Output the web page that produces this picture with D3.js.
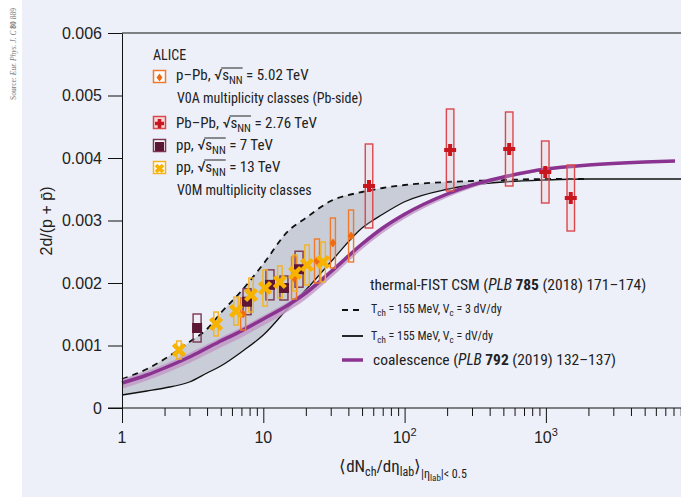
<!DOCTYPE html>
<html><head><meta charset="utf-8">
<script src="https://cdn.jsdelivr.net/npm/d3@7"></script>
<style>
html,body{margin:0;padding:0;background:#fff;}
svg{display:block;}
</style></head>
<body>
<svg id="c" width="681" height="497"></svg>
<script>
// ---------- data ----------
const pPbX = [7.2, 16.5, 24.0, 31.1, 41.8];
const pPbY = [0.001504, 0.00208, 0.002352, 0.00264, 0.002752];
const pPbSys = [0.000256, 0.000336, 0.000352, 0.0004, 0.000416];

const PbPbX = [56, 210, 550, 990, 1500];
const PbPbY = [0.003552, 0.004128, 0.004144, 0.003776, 0.00336];
const PbPbSys = [0.000672, 0.000656, 0.000592, 0.000496, 0.000528];

const pp7X = [3.4, 7.67, 11.15, 14.0, 17.9];
const pp7Y = [0.00128, 0.0017, 0.00197, 0.00192, 0.00222];
const pp7Sys = [0.000224, 0.000208, 0.00024, 0.000192, 0.000288];

const pp13X = [2.53, 4.63, 6.41, 8.19, 10.3, 13.1, 16.8, 20.4, 26.5];
const pp13Y = [0.000928, 0.001344, 0.001552, 0.001808, 0.00192, 0.002016, 0.00216, 0.002288, 0.002336];
const pp13Sys = [0.000144, 0.000192, 0.000224, 0.000272, 0.000288, 0.000256, 0.000288, 0.00032, 0.00032];

const modelX = [1, 1.5, 2, 3, 4, 5, 7, 10, 15, 20, 30, 50, 70, 100, 200, 300, 500, 1000, 2000, 5000, 9040];
const csmDashed = [0.000464, 0.000624, 0.000784, 0.001056, 0.001264, 0.00152, 0.001872, 0.002304, 0.002832, 0.00304, 0.003312, 0.003456, 0.00352, 0.003568, 0.003616, 0.003632, 0.003648, 0.003664, 0.003664, 0.003664, 0.003664];
const csmSolid = [0.000208, 0.000272, 0.00032, 0.000416, 0.00056, 0.000672, 0.000896, 0.001168, 0.0016, 0.001888, 0.002336, 0.00288, 0.0031, 0.0033, 0.0035, 0.003568, 0.003616, 0.003648, 0.003664, 0.003664, 0.003664];

const coalX = [1, 1.5, 2, 3, 4, 5, 7, 10, 15, 20, 30, 50, 70, 100, 200, 300, 500, 1000, 2000, 5000, 8200];
const coalMid = [0.0004, 0.000528, 0.00064, 0.000816, 0.00096, 0.001072, 0.001232, 0.001424, 0.001648, 0.00184, 0.002176, 0.002624, 0.00288, 0.0031, 0.003424, 0.003568, 0.003696, 0.003824, 0.003888, 0.003936, 0.003952];
const coalLow = [0.00031, 0.00044, 0.00055, 0.00072, 0.00086, 0.00097, 0.00113, 0.00132, 0.00155, 0.00174, 0.00208, 0.00254, 0.0028, 0.00303, 0.00337, 0.00352, 0.00366, 0.0038, 0.00387, 0.00392, 0.00394];
const coalHigh = [0.00046, 0.00059, 0.0007, 0.00088, 0.00102, 0.00113, 0.00129, 0.00148, 0.0017, 0.00189, 0.00222, 0.00266, 0.00291, 0.00313, 0.00345, 0.00359, 0.00371, 0.00384, 0.0039, 0.00395, 0.00396];

const yTicks = [0, 0.001, 0.002, 0.003, 0.004, 0.005, 0.006];
const xMajor = [1, 10, 100, 1000];
const xMajorLabels = [["1",""],["10",""],["10","2"],["10","3"]];

// ---------- setup ----------
const svg = d3.select("#c");
const NARROW = "'Liberation Sans Narrow','Roboto Condensed','Liberation Sans',Arial,sans-serif";
const SANS = "'Liberation Sans',Arial,sans-serif";
const TXT = "#222";

svg.append("rect").attr("x",22).attr("y",0).attr("width",659).attr("height",497).attr("fill","#edf0f9");

// source text
const src = svg.append("text").attr("transform","translate(16,100) rotate(-90)")
  .attr("font-family","'Liberation Serif','DejaVu Serif',serif").attr("font-size",8.5).attr("fill","#777")
  .attr("textLength",92).attr("lengthAdjust","spacingAndGlyphs");
src.append("tspan").text("Source: ");
src.append("tspan").attr("font-style","italic").text("Eur. Phys. J. C ");
src.append("tspan").attr("font-weight","bold").text("80");
src.append("tspan").text(" 889");

const x = d3.scaleLog().domain([1, 9040]).range([122, 681]);
const y = d3.scaleLinear().domain([0, 0.006]).range([408, 33]);

// ---------- models ----------
const idx = d3.range(modelX.length);
const band = d3.area().x(i => x(modelX[i])).y0(i => y(csmSolid[i])).y1(i => y(csmDashed[i])).curve(d3.curveMonotoneX);
svg.append("path").datum(idx).attr("d", band).attr("fill","#c9cdd7");
const lineS = d3.line().x(i => x(modelX[i])).y(i => y(csmSolid[i])).curve(d3.curveMonotoneX);
const lineD = d3.line().x(i => x(modelX[i])).y(i => y(csmDashed[i])).curve(d3.curveMonotoneX);
svg.append("path").datum(idx).attr("d", lineS).attr("fill","none").attr("stroke","#111").attr("stroke-width",1.3);
svg.append("path").datum(idx.filter(i => modelX[i] <= 3000)).attr("d", lineD).attr("fill","none").attr("stroke","#111").attr("stroke-width",1.8).attr("stroke-dasharray","6,5");

const cidx = d3.range(coalX.length);
const cband = d3.area().x(i => x(coalX[i])).y0(i => y(coalLow[i])).y1(i => y(coalHigh[i])).curve(d3.curveMonotoneX);
svg.append("path").datum(cidx).attr("d", cband).attr("fill","#c39bc9").attr("opacity",0.85);
const cline = d3.line().x(i => x(coalX[i])).y(i => y(coalMid[i])).curve(d3.curveMonotoneX);
svg.append("path").datum(cidx).attr("d", cline).attr("fill","none").attr("stroke","#8b3391").attr("stroke-width",3.5);

// ---------- axes ----------
const minor = [];
for (let e = 0; e < 4; e++) for (let m = 2; m <= 9; m++) { const v = m * Math.pow(10, e); if (v <= 9040) minor.push(v); }
const gxMinor = svg.append("g").attr("transform","translate(0,408)")
  .call(d3.axisBottom(x).tickValues(minor).tickSize(8).tickSizeOuter(0).tickFormat(""));
gxMinor.select(".domain").remove();
gxMinor.selectAll("line").attr("stroke","#111");
const gx = svg.append("g").attr("transform","translate(0,408)")
  .call(d3.axisBottom(x).tickValues(xMajor).tickSize(15).tickSizeOuter(0).tickFormat(""));
gx.select(".domain").remove();
gx.selectAll("line").attr("stroke","#111");
svg.append("line").attr("x1",108).attr("x2",681).attr("y1",408).attr("y2",408).attr("stroke","#111").attr("stroke-width",1.2);
xMajor.forEach((v, i) => {
  const t = svg.append("text").attr("x", x(v)).attr("y", 443).attr("text-anchor","middle")
    .attr("font-family",SANS).attr("font-size",16).attr("fill",TXT);
  t.append("tspan").text(xMajorLabels[i][0]);
  if (xMajorLabels[i][1]) t.append("tspan").attr("dy",-7).attr("font-size",11).text(xMajorLabels[i][1]);
});

const gy = svg.append("g").attr("transform","translate(122,0)")
  .call(d3.axisLeft(y).tickValues(yTicks).tickSize(14).tickSizeOuter(0).tickPadding(6)
    .tickFormat(d => d === 0 ? "0" : d3.format(".3f")(d)));
gy.selectAll("text").attr("font-family",SANS).attr("font-size",16).attr("fill",TXT);
gy.selectAll("line").attr("stroke","#111");
gy.select(".domain").attr("stroke","#111");
svg.append("line").attr("x1",122).attr("x2",681).attr("y1",33).attr("y2",33).attr("stroke","#111").attr("stroke-width",1.2);

// axis titles
svg.append("text").attr("transform","translate(52,221) rotate(-90)").attr("text-anchor","middle")
  .attr("font-family",SANS).attr("font-size",16).attr("fill",TXT).text("2d/(p + p\u0304)");

function rich(x0, y0, segs, size, fam, anchor) {
  const t = svg.append("text").attr("x",x0).attr("y",y0).attr("font-family",fam).attr("font-size",size).attr("fill",TXT);
  if (anchor) t.attr("text-anchor",anchor);
  let cur = 0;
  segs.forEach(s => {
    const off = s.off || 0;
    const ts = t.append("tspan").text(s.t);
    if (off !== cur) ts.attr("dy", off - cur);
    cur = off;
    if (s.size) ts.attr("font-size", s.size);
    if (s.it) ts.attr("font-style","italic");
    if (s.b) ts.attr("font-weight","bold");
    s.node = ts.node();
  });
  return {t, segs};
}

rich(403, 472, [
  {t:"\u27E8dN"}, {t:"ch", off:4, size:12}, {t:"/d\u03B7", off:0}, {t:"lab", off:4, size:12}, {t:"\u27E9", off:0},
  {t:"|\u03B7", off:6, size:12}, {t:"lab", off:9, size:9}, {t:"|< 0.5", off:6, size:12}
], 17, NARROW, "middle");

// ---------- legend ----------
rich(153, 60, [{t:"ALICE"}], 14, NARROW);
function sqrtLabel(x0, y0, pre, post) {
  const r = rich(x0, y0, [{t:pre + "\u221A"}, {t:"s"}, {t:"NN", off:4, size:11}, {t:" = " + post, off:0}], 15, NARROW);
  const a = r.segs[1].node.getBoundingClientRect(), b = r.segs[2].node.getBoundingClientRect();
  const sv = svg.node().getBoundingClientRect();
  svg.append("line").attr("x1", a.left - sv.left - 1).attr("x2", b.right - sv.left)
    .attr("y1", y0 - 12).attr("y2", y0 - 12).attr("stroke", TXT).attr("stroke-width", 1);
}
sqrtLabel(176, 80, "p\u2013Pb, ", "5.02 TeV");
rich(177, 103, [{t:"V0A multiplicity classes (Pb-side)"}], 14, NARROW);
sqrtLabel(176, 128, "Pb\u2013Pb, ", "2.76 TeV");
sqrtLabel(176, 150, "pp, ", "7 TeV");
sqrtLabel(176, 172, "pp, ", "13 TeV");
rich(177, 195, [{t:"V0M multiplicity classes"}], 14, NARROW);

// marker shapes
const C = {
  pPb: "#ef6b12", pPbBox: "#f07a2c",
  PbPb: "#c9161e", PbPbBox: "#d9484d",
  pp7: "#5d1636", pp7Box: "#7d3552",
  pp13: "#f7b300", pp13Box: "#f5b320"
};
function plus(g, cx, cy, s, col, w) {
  g.append("path").attr("d", `M${cx - s},${cy}H${cx + s}M${cx},${cy - s}V${cy + s}`)
    .attr("stroke", col).attr("stroke-width", w || 4).attr("fill","none");
}
function cross(g, cx, cy, s, col, w) {
  g.append("path").attr("d", `M${cx - s},${cy - s}L${cx + s},${cy + s}M${cx - s},${cy + s}L${cx + s},${cy - s}`)
    .attr("stroke", col).attr("stroke-width", w || 4.5).attr("fill","none");
}
function diamond(g, cx, cy, s, col) {
  g.append("path").attr("d", `M${cx},${cy - s}L${cx + s * 0.75},${cy}L${cx},${cy + s}L${cx - s * 0.75},${cy}Z`).attr("fill", col);
}
function square(g, cx, cy, s, col) {
  g.append("rect").attr("x", cx - s).attr("y", cy - s).attr("width", 2 * s).attr("height", 2 * s).attr("fill", col);
}
const lg = svg.append("g");
function legBox(cy, col, fill) {
  lg.append("rect").attr("x",153.5).attr("y",cy - 6.5).attr("width",12).attr("height",12)
    .attr("fill", fill || "#fff").attr("stroke", col).attr("stroke-width",1.5);
}
legBox(77, C.pPbBox); diamond(lg, 159.5, 77.5, 4, C.pPb);
legBox(123, C.PbPbBox, "#f6d8da"); plus(lg, 159.5, 123.5, 4.5, C.PbPb, 3.6);
legBox(146, C.pp7Box); square(lg, 159.5, 146.5, 4.5, C.pp7);
legBox(168, C.pp13Box); cross(lg, 159.5, 168.5, 3.5, C.pp13, 3.8);

// right legend
rich(370, 290, [{t:"thermal-FIST CSM ("}, {t:"PLB ", it:true}, {t:"785", b:true}, {t:" (2018) 171\u2013174)"}], 15.5, NARROW);
svg.append("line").attr("x1",342).attr("x2",363).attr("y1",310).attr("y2",310).attr("stroke","#111").attr("stroke-width",1.8).attr("stroke-dasharray","6,5");
rich(371, 313, [{t:"T"}, {t:"ch", off:3, size:9}, {t:" = 155 MeV, V", off:0}, {t:"c", off:3, size:9}, {t:" = 3 dV/dy", off:0}], 12, NARROW);
svg.append("line").attr("x1",342).attr("x2",363).attr("y1",336).attr("y2",336).attr("stroke","#111").attr("stroke-width",1.8);
rich(371, 340, [{t:"T"}, {t:"ch", off:3, size:9}, {t:" = 155 MeV, V", off:0}, {t:"c", off:3, size:9}, {t:" = dV/dy", off:0}], 12, NARROW);
svg.append("line").attr("x1",342).attr("x2",363).attr("y1",360).attr("y2",360).attr("stroke","#8b3391").attr("stroke-width",3.5);
rich(373, 365, [{t:"coalescence ("}, {t:"PLB ", it:true}, {t:"792", b:true}, {t:" (2019) 132\u2013137)"}], 15.5, NARROW);

// ---------- data points ----------
const pg = svg.append("g");
function boxes(X, Y, S, w, col, fill) {
  X.forEach((v, i) => {
    pg.append("rect").attr("x", x(v) - w / 2).attr("y", y(Y[i] + S[i])).attr("width", w)
      .attr("height", y(Y[i] - S[i]) - y(Y[i] + S[i])).attr("fill", fill || "none")
      .attr("stroke", col).attr("stroke-width", 1.4);
  });
}
boxes(pp7X, pp7Y, pp7Sys, 8, C.pp7Box);
boxes(pPbX, pPbY, pPbSys, 5, C.pPbBox);
boxes(pp13X, pp13Y, pp13Sys, 4.5, C.pp13Box);
boxes(PbPbX, PbPbY, PbPbSys, 7.5, C.PbPbBox, "rgba(240,200,205,0.25)");
pp7X.forEach((v, i) => square(pg, x(v), y(pp7Y[i]), 5, C.pp7));
pPbX.forEach((v, i) => diamond(pg, x(v), y(pPbY[i]), 4.5, C.pPb));
pp13X.forEach((v, i) => cross(pg, x(v), y(pp13Y[i]), 5.5, C.pp13));
PbPbX.forEach((v, i) => plus(pg, x(v), y(PbPbY[i]), 6, C.PbPb));
</script>
</body></html>
